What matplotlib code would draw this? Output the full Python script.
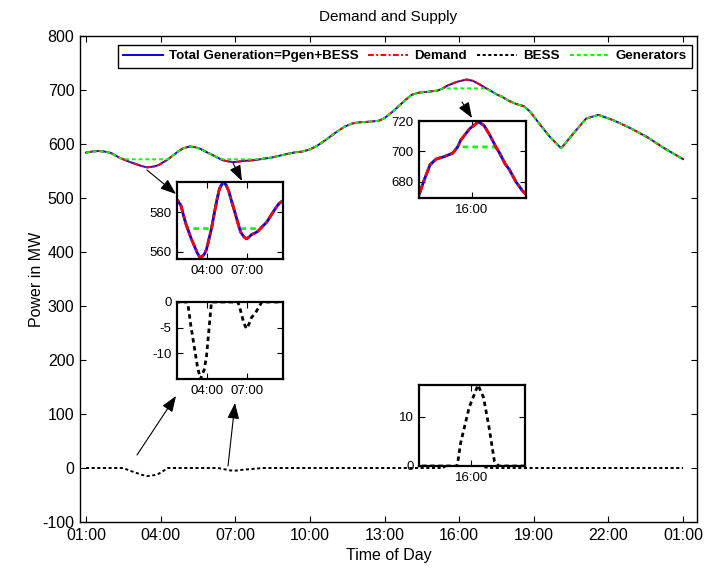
import matplotlib
matplotlib.use('Agg')
import matplotlib.pyplot as plt
import numpy as np

plt.rcParams['font.family'] = ['Liberation Sans', 'DejaVu Sans']
plt.rcParams['axes.unicode_minus'] = False

# 时间(小时) 与 读取的功率数据
hours = [1.0, 1.25, 1.5, 1.75, 2.0, 2.25, 2.4,
         2.5, 2.75, 3.0, 3.25, 3.47, 3.75, 3.92, 4.1, 4.3,
         4.5, 4.7, 4.9, 5.18, 5.4, 5.6, 5.85, 6.07, 6.3,
         6.5, 6.75, 6.95, 7.15, 7.33, 7.6, 7.83, 8.1,
         8.47, 8.8, 9.1, 9.4, 9.7, 10.0, 10.3, 10.65, 11.0, 11.39, 11.7, 11.95,
         12.3, 12.77, 13.0, 13.33, 13.58, 13.84, 14.1, 14.37, 14.75, 15.13, 15.35,
         15.5, 15.9, 16.3, 16.55, 16.8, 17.05,
         17.25, 17.5, 17.7, 18.0, 18.3, 18.6, 18.85, 19.25, 19.65, 20.1, 20.6,
         21.1, 21.6, 22.2, 22.9, 23.55, 24.25, 25.0]

demand = [584, 586, 587, 586, 583.5, 577, 573.5,
          571.7, 567, 563, 559, 556.7, 558.5, 561, 566, 571.7,
          579, 586, 592, 595.5, 594, 591, 585, 580, 574.5,
          570, 567.5, 566.5, 567.5, 568.7, 569.5, 570.5, 572.5,
          575, 578.5, 581.7, 584.5, 586, 590, 597, 608, 620, 632, 638, 640,
          641, 643, 648, 660, 670.6, 681.5, 691.3, 695, 696.7, 698.9, 703,
          707.6, 715, 719.5, 717, 711, 704,
          699, 692, 688, 680, 674, 670, 660, 636, 613, 592, 620,
          647, 654, 644, 629, 613, 592, 572]

bess = [0, 0, 0, 0, 0, 0, 0,
        0, -4.7, -8.7, -12.7, -15, -13.2, -10.7, -5.7, 0,
        0, 0, 0, 0, 0, 0, 0, 0, 0,
        -1.7, -4.2, -5.2, -4.2, -3.0, -2.2, -1.2, 0,
        0, 0, 0, 0, 0, 0, 0, 0, 0, 0, 0, 0,
        0, 0, 0, 0, 0, 0, 0, 0, 0, 0, 0,
        4.6, 12, 16.5, 14, 8, 1,
        0, 0, 0, 0, 0, 0, 0, 0, 0, 0, 0,
        0, 0, 0, 0, 0, 0, 0]

xtick_pos = [1, 4, 7, 10, 13, 16, 19, 22, 25]
xtick_labels = ['01:00', '04:00', '07:00', '10:00', '13:00', '16:00', '19:00', '22:00', '01:00']

hours = np.array(hours)
demand = np.array(demand)
bess = np.array(bess)
total = demand          # Total Generation = Pgen + BESS
gen = demand - bess     # Generators

W, H = 710, 575
fig = plt.figure(figsize=(W / 100, H / 100), dpi=100)


def box(l, t, r, b):
    return [l / W, (H - b) / H, (r - l) / W, (b - t) / H]


def draw_lines(ax, lw=1.4, with_bess=True, only_bess=False, gen_z=3):
    if not only_bess:
        ax.plot(hours, total, color='#0000ff', lw=lw, ls='-', zorder=2)
        ax.plot(hours, demand, color='#ff0000', lw=lw, ls=(0, (3, 1.2, 1, 1.2)), zorder=2)
    if with_bess or only_bess:
        ax.plot(hours, bess, color='k', lw=lw, ls=(0, (1.6, 1.3)), zorder=2)
    if not only_bess:
        ax.plot(hours, gen, color='#00ff00', lw=lw, ls=(0, (2, 1.5)), zorder=gen_z)


def style(ax, lw=1.0, size=11):
    for s in ax.spines.values():
        s.set_linewidth(lw)
    ax.tick_params(direction='in', top=True, right=True, labelsize=size,
                   length=4, width=0.8, pad=4)


# 主图
ax = fig.add_axes(box(80, 36, 697, 522))
draw_lines(ax, lw=1.4)
ax.set_xlim(0.76, 25.56)
ax.set_ylim(-100, 800)
ax.set_yticks(range(-100, 801, 100))
ax.set_xticks(xtick_pos)
ax.set_xticklabels(xtick_labels)
style(ax, 1.0, 11.5)
ax.set_xlabel('Time of Day', fontsize=11.5, labelpad=4)
ax.set_ylabel('Power in MW', fontsize=11.5, labelpad=-1)
ax.set_title('Demand and Supply', fontsize=11, pad=11)

leg = ax.legend(['Total Generation=Pgen+BESS', 'Demand', 'BESS', 'Generators'],
                ncol=4, loc='upper right', bbox_to_anchor=(0.992, 0.982),
                borderaxespad=0, fancybox=False, framealpha=1, edgecolor='k',
                handlelength=3.0, handletextpad=0.45, columnspacing=0.75,
                prop={'weight': 'bold', 'size': 9.6}, borderpad=0.4)
leg.get_frame().set_linewidth(1.0)

# 局部放大图
ax1 = fig.add_axes(box(177, 182, 283, 259))
draw_lines(ax1, lw=2, with_bess=False, gen_z=1)
ax1.set_xlim(1.7, 9.7)
ax1.set_ylim(556.2, 595.5)
ax1.set_xticks([4, 7])
ax1.set_xticklabels(['04:00', '07:00'])
ax1.set_yticks([560, 580])
style(ax1, 1.6, 9.5)

ax2 = fig.add_axes(box(177, 302, 283, 379))
draw_lines(ax2, lw=2, only_bess=True)
ax2.set_xlim(1.7, 9.7)
ax2.set_ylim(-15, 0)
ax2.set_xticks([4, 7])
ax2.set_xticklabels(['04:00', '07:00'])
ax2.set_yticks([-10, -5, 0])
style(ax2, 1.6, 9.5)

ax3 = fig.add_axes(box(419, 121, 526, 198))
draw_lines(ax3, lw=2, with_bess=False, gen_z=1)
ax3.set_xlim(13.6, 18.45)
ax3.set_ylim(669.5, 720)
ax3.set_xticks([16])
ax3.set_xticklabels(['16:00'])
ax3.set_yticks([680, 700, 720])
style(ax3, 1.6, 9.5)

ax4 = fig.add_axes(box(419, 385, 525, 466))
draw_lines(ax4, lw=2, only_bess=True)
ax4.set_xlim(13.6, 18.45)
ax4.set_ylim(0, 16.5)
ax4.set_xticks([16])
ax4.set_xticklabels(['16:00'])
ax4.set_yticks([0, 10])
style(ax4, 1.6, 9.5)

# 箭头 (像素坐标, 左上为原点)
arrows = [((147, 170), (176, 194)), ((233, 163), (242, 181)),
          ((462, 102), (472, 118)), ((137, 455), (176, 396)),
          ((228, 466), (235, 403)), ((465, 458), (469, 444))]
for (x1, y1), (x2, y2) in arrows:
    ax.annotate('', xy=(x2, H - y2), xytext=(x1, H - y1),
                xycoords='figure pixels', textcoords='figure pixels',
                arrowprops=dict(arrowstyle='-|>,head_length=0.8,head_width=0.3',
                                color='k', lw=0.8, mutation_scale=12,
                                shrinkA=0, shrinkB=0))

plt.savefig('out.png', dpi=100)
